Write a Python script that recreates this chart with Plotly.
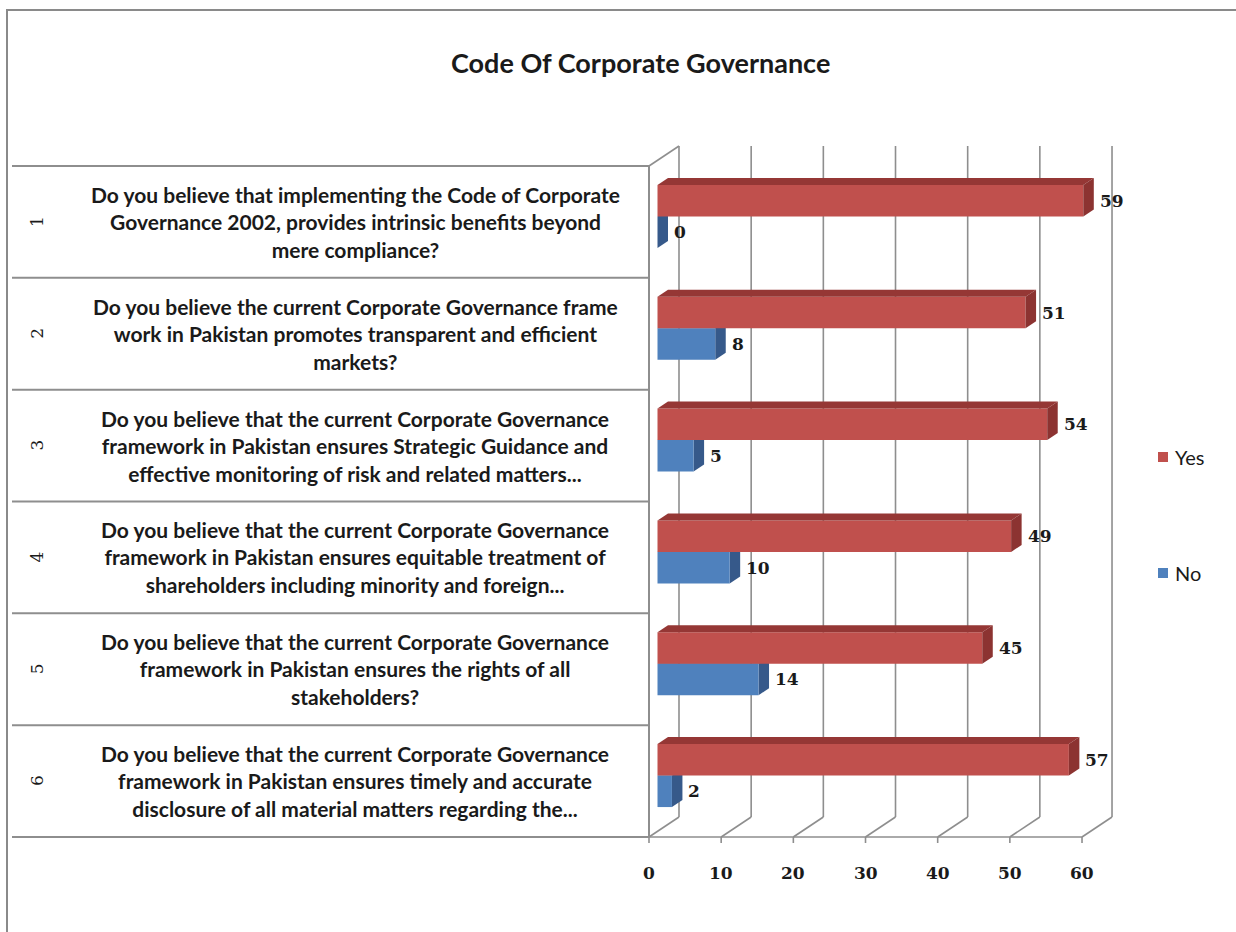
import plotly.graph_objects as go

# ---------------- data ----------------
title_text = "Code Of Corporate Governance"
row_numbers = ["1", "2", "3", "4", "5", "6"]
questions = [
    "Do you believe that implementing the Code of Corporate<br>Governance 2002, provides intrinsic benefits beyond<br>mere compliance?",
    "Do you believe the current Corporate Governance frame<br>work in Pakistan promotes transparent and efficient<br>markets?",
    "Do you believe that the current Corporate Governance<br>framework in Pakistan ensures Strategic Guidance and<br>effective monitoring of risk and related matters...",
    "Do you believe that the current Corporate Governance<br>framework in Pakistan ensures equitable treatment of<br>shareholders including minority and foreign...",
    "Do you believe that the current Corporate Governance<br>framework in Pakistan ensures the rights of all<br>stakeholders?",
    "Do you believe that the current Corporate Governance<br>framework in Pakistan ensures timely and accurate<br>disclosure of all material matters regarding the...",
]
yes_values = [59, 51, 54, 49, 45, 57]
no_values = [0, 8, 5, 10, 14, 2]
x_ticks = [0, 10, 20, 30, 40, 50, 60]
series_names = ["Yes", "No"]

# ---------------- styling ----------------
W, H = 1236, 932
PX_X0 = 649          # pixel where value 0 sits on the front plane
PX_PER_UNIT = 7.217  # pixels per value unit
PX_TOP = 166         # top of the category table
ROW_PX = 111.83      # height of one category row

RED = "#C0504D"
RED_TOP = "#953735"
RED_SIDE = "#8C3331"
BLUE = "#4F81BD"
BLUE_TOP = "#3E6596"
BLUE_SIDE = "#36598A"
GRID = "#8E8E8E"
TEXT = "#1A1A1A"

SANS = "Lato, Carlito, Calibri, sans-serif"
SERIF = "DejaVu Serif, Cambria, serif"


def dx(px):
    return px / PX_PER_UNIT


def dy(px):
    return px / ROW_PX


def px_to_x(px):
    return (px - PX_X0) / PX_PER_UNIT


x_range = [px_to_x(0), px_to_x(W)]
y_range = [(H - PX_TOP) / ROW_PX, (0 - PX_TOP) / ROW_PX]  # reversed: row 1 on top

WALL_DX, WALL_DY = dx(30), dy(-20)
BAR_FRONT_DX, BAR_FRONT_DY = dx(8.5), dy(-5.5)
BAR_DEPTH_DX, BAR_DEPTH_DY = dx(10.5), dy(-7)
BAR_H = dy(31.5)

n = len(questions)
centers = [i + 0.5 for i in range(n)]

fig = go.Figure()

# front faces of the 3-D bars
fig.add_trace(go.Bar(
    name=series_names[1], orientation="h",
    x=no_values, y=[c + BAR_FRONT_DY for c in centers],
    base=BAR_FRONT_DX, offset=0, width=BAR_H,
    marker=dict(color=BLUE, line=dict(width=0)), showlegend=False,
))
fig.add_trace(go.Bar(
    name=series_names[0], orientation="h",
    x=yes_values, y=[c + BAR_FRONT_DY for c in centers],
    base=BAR_FRONT_DX, offset=-BAR_H, width=BAR_H,
    marker=dict(color=RED, line=dict(width=0)), showlegend=False,
))

shapes = []


def line(x0, y0, x1, y1, width=1.6, color=GRID, layer="below"):
    shapes.append(dict(type="line", xref="x", yref="y", x0=x0, y0=y0, x1=x1, y1=y1,
                       line=dict(color=color, width=width), layer=layer))


def poly(points, color, layer):
    path = "M " + " L ".join(f"{px:.4f},{py:.4f}" for px, py in points) + " Z"
    shapes.append(dict(type="path", xref="x", yref="y", path=path,
                       fillcolor=color, line=dict(width=0), layer=layer))


# back wall gridlines, floor diagonals and front axis ticks
for t in x_ticks:
    line(t + WALL_DX, 0 + WALL_DY, t + WALL_DX, n + WALL_DY)
    line(t, n, t + WALL_DX, n + WALL_DY)
    line(t, n, t, n + dy(6))
# side wall top edge
line(0, 0, WALL_DX, WALL_DY)
# front floor edge
line(0, n, x_ticks[-1], n)

# category table: horizontal rules and right edge
table_left = px_to_x(12)
for i in range(n + 1):
    line(table_left, i, 0, i, width=2)
line(0, 0, 0, n, width=2)


def bar_faces(values, top_offset, top_col, side_col, layer):
    for c, v in zip(centers, values):
        y_top = c + BAR_FRONT_DY + top_offset
        y_bot = y_top + BAR_H
        a = BAR_FRONT_DX
        b = a + v
        poly([(a, y_top), (b, y_top), (b + BAR_DEPTH_DX, y_top + BAR_DEPTH_DY),
              (a + BAR_DEPTH_DX, y_top + BAR_DEPTH_DY)], top_col, layer)
        poly([(b, y_top), (b, y_bot), (b + BAR_DEPTH_DX, y_bot + BAR_DEPTH_DY),
              (b + BAR_DEPTH_DX, y_top + BAR_DEPTH_DY)], side_col, layer)


# blue faces sit behind the red front faces; red faces drawn on top
bar_faces(no_values, 0, BLUE_TOP, BLUE_SIDE, "below")
bar_faces(yes_values, -BAR_H, RED_TOP, RED_SIDE, "above")

# outer chart border
shapes.append(dict(type="rect", xref="paper", yref="paper",
                   x0=7 / W, y0=-0.02, x1=1.02, y1=1 - 10 / H,
                   line=dict(color="#8A8A8A", width=2), fillcolor="rgba(0,0,0,0)", layer="below"))

# legend swatches
legend_y_px = [457, 573]
legend_cols = [RED, BLUE]
for ly, col in zip(legend_y_px, legend_cols):
    shapes.append(dict(type="rect", xref="paper", yref="paper",
                       x0=1158 / W, x1=1168 / W, y0=1 - (ly + 5) / H, y1=1 - (ly - 5) / H,
                       fillcolor=col, line=dict(width=0)))

annotations = []
# title
annotations.append(dict(text=f"<b>{title_text}</b>", xref="paper", yref="paper",
                        x=640 / W, y=1 - 62 / H, xanchor="center", yanchor="middle",
                        showarrow=False, font=dict(family=SANS, size=27, color=TEXT)))
# category labels
for c, num, q in zip(centers, row_numbers, questions):
    annotations.append(dict(text=num, xref="paper", yref="y", x=37 / W, y=c,
                            xanchor="center", yanchor="middle", textangle=-90, showarrow=False,
                            font=dict(family=SERIF, size=17, color=TEXT)))
    annotations.append(dict(text=f"<b>{q}</b>", xref="paper", yref="y", x=355 / W, y=c,
                            xanchor="center", yanchor="middle", align="center", showarrow=False,
                            font=dict(family=SANS, size=21, color=TEXT)))
# value axis labels
for t in x_ticks:
    annotations.append(dict(text=f"<b>{t}</b>", xref="x", yref="paper", x=t, y=1 - 873 / H,
                            xanchor="center", yanchor="middle", showarrow=False,
                            font=dict(family=SERIF, size=17, color=TEXT)))
# data labels
label_dx = BAR_FRONT_DX + BAR_DEPTH_DX + dx(4)
for c, v in zip(centers, yes_values):
    annotations.append(dict(text=f"<b>{v}</b>", xref="x", yref="y", x=v + label_dx,
                            y=c + BAR_FRONT_DY - BAR_H / 2, xanchor="left", yanchor="middle",
                            showarrow=False, font=dict(family=SERIF, size=17, color=TEXT)))
for c, v in zip(centers, no_values):
    annotations.append(dict(text=f"<b>{v}</b>", xref="x", yref="y", x=v + label_dx,
                            y=c + BAR_FRONT_DY + BAR_H / 2, xanchor="left", yanchor="middle",
                            showarrow=False, font=dict(family=SERIF, size=17, color=TEXT)))
# legend text
for ly, name in zip(legend_y_px, series_names):
    annotations.append(dict(text=name, xref="paper", yref="paper", x=1173 / W, y=1 - ly / H,
                            xanchor="left", yanchor="middle", showarrow=False,
                            font=dict(family=SANS, size=20, color=TEXT)))

fig.update_layout(
    width=W, height=H,
    margin=dict(l=0, r=0, t=0, b=0, pad=0),
    paper_bgcolor="white", plot_bgcolor="white",
    barmode="overlay", showlegend=False,
    xaxis=dict(range=x_range, visible=False, fixedrange=True),
    yaxis=dict(range=y_range, visible=False, fixedrange=True),
    shapes=shapes, annotations=annotations,
)

fig.write_html("out.html")
